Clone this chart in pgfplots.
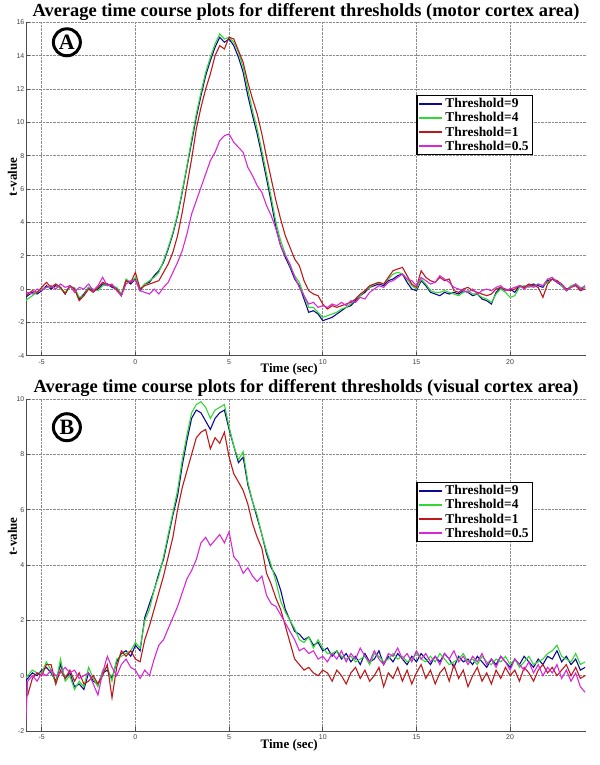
\documentclass[border=0pt]{standalone}
\usepackage{fontspec}
\setmainfont{Liberation Serif}
\setsansfont{Liberation Sans}
\usepackage{pgfplots}
\usepackage{pgfplotstable}
\pgfplotsset{compat=1.18}
\definecolor{colB}{RGB}{10,10,150}
\definecolor{colG}{RGB}{50,215,50}
\definecolor{colR}{RGB}{190,25,25}
\definecolor{colM}{RGB}{215,40,215}

\pgfplotstableread{
t b g r m
-5.87 -0.5 -0.7 -0.4 -0.2
-5.75 -0.4 -0.6 -0.3 -0.2
-5.50 -0.2 -0.4 -0.1 -0.3
-5.25 -0.3 -0.2 -0.2 0.0
-5.00 -0.1 0.0 0.1 -0.1
-4.75 0.2 0.1 0.4 0.1
-4.50 0.0 0.1 0.1 0.2
-4.25 0.2 0.3 0.3 0.0
-4.00 0.1 0.0 0.1 0.3
-3.75 -0.3 -0.2 -0.3 0.1
-3.50 0.2 0.1 0.2 0.2
-3.25 0.0 0.1 0.0 -0.2
-3.00 -0.6 -0.5 -0.7 0.1
-2.75 -0.3 -0.4 -0.4 0.0
-2.50 0.1 0.1 0.0 0.3
-2.25 -0.1 0.0 -0.2 -0.1
-2.00 0.0 -0.1 0.1 0.2
-1.75 0.3 0.2 0.4 0.7
-1.50 0.3 0.2 0.3 0.2
-1.25 0.1 0.2 0.2 0.3
-1.00 0.0 0.1 0.0 -0.1
-0.75 -0.4 -0.3 -0.4 -0.4
-0.50 0.5 0.6 0.5 0.3
-0.25 0.3 0.4 0.4 0.5
0.00 0.6 0.7 1.0 0.5
0.25 -0.1 0.0 0.0 -0.1
0.50 0.3 0.3 0.2 -0.2
0.75 0.4 0.5 0.3 -0.3
1.00 0.8 0.7 0.4 0.0
1.25 1.1 1.0 0.5 -0.3
1.50 1.6 1.7 1.0 0.1
1.75 2.4 2.5 1.5 0.4
2.00 3.3 3.4 2.2 1.0
2.25 4.4 4.5 3.2 1.6
2.50 5.8 5.9 4.6 2.3
2.75 7.3 7.4 6.2 3.3
3.00 8.8 9.0 7.8 4.5
3.25 10.3 10.5 9.6 5.3
3.50 11.6 11.8 10.9 6.1
3.75 12.8 13.0 12.0 6.9
4.00 13.7 13.9 12.9 7.7
4.25 14.5 14.7 14.0 8.2
4.50 15.1 15.3 14.6 8.9
4.75 14.8 15.0 14.4 9.2
5.00 15.0 15.1 15.1 9.3
5.25 14.6 14.8 15.0 8.8
5.50 13.9 14.2 14.3 8.5
5.75 13.0 13.3 13.6 8.2
6.00 11.6 12.0 12.4 7.3
6.25 10.4 10.7 11.4 6.8
6.50 9.3 9.6 10.5 6.2
6.75 8.0 8.3 9.3 5.8
7.00 6.6 6.9 7.9 5.0
7.25 5.2 5.5 6.6 4.4
7.50 3.7 4.0 5.3 3.6
7.75 2.6 2.9 4.2 2.6
8.00 1.9 2.1 3.2 2.0
8.25 1.3 1.4 2.5 1.5
8.50 0.6 0.8 1.8 0.7
8.75 0.2 0.4 1.4 0.1
9.00 -0.6 -0.4 0.5 -0.4
9.25 -1.4 -1.1 -0.1 -0.9
9.50 -1.3 -1.1 -0.3 -0.8
9.75 -1.5 -1.4 -0.4 -1.1
10.00 -1.9 -1.7 -0.9 -1.0
10.25 -1.8 -1.6 -1.2 -1.1
10.50 -1.7 -1.5 -1.0 -0.9
10.75 -1.5 -1.4 -1.1 -1.0
11.00 -1.3 -1.2 -1.0 -0.8
11.25 -1.1 -1.1 -0.9 -1.0
11.50 -1.0 -0.9 -0.8 -0.7
11.75 -0.7 -0.6 -0.6 -0.8
12.00 -0.4 -0.4 -0.3 -0.5
12.25 -0.2 -0.1 -0.1 -0.6
12.50 0.1 0.1 0.2 -0.2
12.75 0.2 0.3 0.3 0.0
13.00 0.3 0.4 0.4 0.2
13.25 0.2 0.3 0.3 0.1
13.50 0.5 0.6 0.7 0.4
13.75 0.6 0.9 1.1 0.5
14.00 0.8 1.0 1.2 0.7
14.25 0.9 0.9 1.3 0.9
14.50 0.4 0.6 0.8 0.6
14.75 0.0 0.2 0.3 0.5
15.00 -0.1 0.0 0.1 0.2
15.25 0.5 0.6 1.1 0.7
15.50 0.2 0.3 0.7 0.5
15.75 -0.2 -0.1 0.5 0.3
16.00 -0.3 -0.2 0.4 0.4
16.25 -0.4 -0.2 0.7 0.8
16.50 -0.2 -0.1 0.5 0.6
16.75 -0.3 -0.2 0.6 0.4
17.00 -0.2 -0.3 -0.1 0.1
17.25 -0.3 -0.4 -0.2 0.0
17.50 -0.1 -0.2 0.0 -0.1
17.75 -0.2 -0.1 0.1 -0.2
18.00 -0.4 -0.3 -0.1 0.0
18.25 -0.3 -0.3 -0.2 -0.3
18.50 -0.6 -0.5 -0.3 -0.1
18.75 -0.7 -0.6 -0.4 0.0
19.00 -0.9 -0.8 -0.3 -0.1
19.25 -0.2 -0.3 0.0 0.1
19.50 0.1 0.0 0.1 0.2
19.75 -0.1 -0.2 0.0 -0.1
20.00 0.0 -0.5 -0.1 0.0
20.25 -0.2 -0.4 0.0 0.1
20.50 0.2 0.1 0.2 0.2
20.75 0.1 0.2 0.1 0.0
21.00 0.2 0.1 0.3 0.2
21.25 0.3 0.2 0.2 0.1
21.50 0.2 0.3 0.1 0.3
21.75 0.1 0.2 -0.5 0.2
22.00 0.5 0.4 0.3 0.6
22.25 0.6 0.6 0.6 0.7
22.50 0.4 0.5 0.5 0.4
22.75 0.2 0.2 0.3 0.3
23.00 -0.1 -0.1 0.0 -0.1
23.25 0.1 0.2 0.1 0.1
23.50 0.3 0.3 0.2 0.3
23.75 0.0 0.1 -0.1 0.0
24.00 0.1 0.1 0.0 0.2
}\tblA

\pgfplotstableread{
t b g r m
-5.87 -0.2 -0.1 -0.6 -1.9
-5.75 -0.1 0.0 -0.7 -0.2
-5.50 0.1 0.2 -0.1 0.0
-5.25 0.0 0.1 0.1 -0.2
-5.00 0.2 0.1 0.0 0.1
-4.75 0.3 0.5 0.4 0.0
-4.50 0.1 0.2 0.4 0.2
-4.25 -0.2 -0.3 -0.3 0.0
-4.00 0.4 0.6 0.2 0.1
-3.75 -0.1 -0.2 -0.1 0.3
-3.50 0.1 0.0 0.2 0.1
-3.25 -0.4 -0.5 -0.2 0.2
-3.00 -0.3 -0.2 0.1 -0.1
-2.75 -0.5 -0.4 -0.3 0.0
-2.50 0.1 0.3 -0.2 0.1
-2.25 -0.2 -0.1 0.0 -0.3
-2.00 -0.3 -0.4 -0.3 -0.7
-1.75 0.1 0.2 0.0 0.1
-1.50 0.2 0.3 0.4 0.7
-1.25 -0.1 -0.2 -0.8 0.3
-1.00 0.5 0.6 0.3 0.0
-0.75 0.8 0.7 0.9 0.4
-0.50 0.9 0.8 0.7 0.6
-0.25 0.7 0.9 0.9 0.3
0.00 1.1 1.2 0.6 0.2
0.25 0.9 1.0 0.5 -0.1
0.50 2.1 2.0 1.3 0.2
0.75 2.6 2.4 1.8 0.0
1.00 3.1 3.1 2.4 0.6
1.25 3.7 3.6 3.0 1.1
1.50 4.2 4.3 3.6 1.3
1.75 5.0 5.1 4.3 1.7
2.00 5.8 5.9 5.0 2.1
2.25 6.5 6.7 6.0 2.5
2.50 7.6 7.8 6.8 3.0
2.75 8.5 8.7 7.4 3.5
3.00 9.3 9.5 8.0 3.8
3.25 9.6 9.8 8.6 4.2
3.50 9.5 9.9 8.8 4.8
3.75 9.2 9.7 8.9 5.0
4.00 8.9 9.3 8.2 4.7
4.25 9.3 9.6 8.6 4.9
4.50 9.5 9.7 8.4 5.1
4.75 9.6 9.8 8.8 4.8
5.00 8.9 9.0 7.9 5.2
5.25 8.3 8.3 7.3 4.3
5.50 7.7 7.8 7.0 4.1
5.75 7.9 8.1 6.7 3.7
6.00 6.9 7.0 6.2 3.9
6.25 6.3 6.3 5.5 3.6
6.50 5.7 5.8 5.0 3.4
6.75 5.1 5.1 4.6 3.6
7.00 4.4 4.5 3.7 2.9
7.25 3.9 4.0 3.3 2.6
7.50 3.6 3.4 2.8 2.5
7.75 3.1 2.7 2.4 2.2
8.00 2.4 2.3 1.8 1.9
8.25 2.0 2.0 1.2 1.6
8.50 1.6 1.7 0.6 1.3
8.75 1.5 1.3 0.4 0.9
9.00 1.3 1.2 0.2 1.0
9.25 1.4 1.4 0.3 0.8
9.50 1.1 1.0 0.1 0.9
9.75 1.2 1.3 0.0 0.6
10.00 0.9 1.0 0.2 0.7
10.25 1.0 0.8 0.1 0.5
10.50 0.7 0.8 -0.2 0.8
10.75 0.9 0.9 0.2 0.6
11.00 0.6 0.7 0.0 0.9
11.25 0.8 0.6 -0.3 0.5
11.50 0.5 0.7 0.1 0.8
11.75 0.7 0.5 0.3 0.6
12.00 0.4 0.6 -0.1 1.0
12.25 0.8 0.7 0.2 0.7
12.50 0.5 0.4 -0.2 0.5
12.75 0.6 0.8 0.0 0.9
13.00 0.9 0.7 0.3 0.6
13.25 0.4 0.5 -0.4 0.4
13.50 0.7 0.6 0.1 0.8
13.75 0.5 0.8 -0.1 0.7
14.00 0.8 0.6 0.3 1.0
14.25 0.6 0.7 -0.2 0.6
14.50 0.4 0.5 0.2 0.8
14.75 0.7 0.6 -0.3 0.5
15.00 0.5 0.8 0.1 0.9
15.25 0.8 0.6 0.4 0.6
15.50 0.6 0.5 -0.1 0.8
15.75 0.4 0.7 0.2 0.5
16.00 0.7 0.5 -0.3 0.7
16.25 0.5 0.8 0.1 0.4
16.50 0.8 0.6 0.3 0.8
16.75 0.6 0.4 -0.2 0.6
17.00 0.3 0.5 0.4 0.9
17.25 0.7 0.6 -0.1 0.5
17.50 0.5 0.8 0.2 0.7
17.75 0.6 0.5 -0.4 0.4
18.00 0.4 0.6 0.0 0.7
18.25 0.7 0.4 0.3 0.5
18.50 0.5 0.7 -0.2 0.8
18.75 0.3 0.5 0.1 0.4
19.00 0.6 0.4 -0.3 0.6
19.25 0.4 0.6 0.2 0.3
19.50 0.7 0.5 -0.1 0.7
19.75 0.5 0.7 0.3 0.5
20.00 0.3 0.4 0.0 0.2
20.25 0.6 0.6 0.2 0.6
20.50 0.4 0.3 -0.2 0.4
20.75 0.7 0.5 0.3 0.2
21.00 0.5 0.7 0.1 0.5
21.25 0.3 0.4 -0.2 0.1
21.50 0.6 0.5 0.2 0.4
21.75 0.4 0.6 0.4 0.0
22.00 0.7 0.8 0.1 0.3
22.25 0.6 0.9 0.3 0.1
22.50 0.9 1.1 0.0 0.4
22.75 0.5 0.7 0.2 -0.1
23.00 0.7 0.6 0.4 0.2
23.25 0.4 0.5 0.0 -0.2
23.50 0.6 0.8 0.3 0.1
23.75 0.2 0.4 -0.1 -0.4
24.00 0.3 0.5 0.0 -0.6
}\tblB

\pgfplotsset{
  mystyle/.style={
    scale only axis, width=560bp,
    xmin=-5.84, xmax=24.05,
    xtick={-5,0,5,10,15,20},
    axis x line*=bottom, axis y line*=left,
    axis line style={black!70, line width=0.8bp},
    tick align=inside, major tick length=4bp,
    tick style={black!70, line width=0.6bp},
    grid=major,
    major grid style={densely dotted, black!45, line width=0.6bp},
    /pgf/number format/assume math mode=true,
    tick label style={font=\sffamily\fontsize{7}{7}\selectfont, text=black!75},
    yticklabel style={inner sep=1.5bp},
    title style={font=\bfseries\fontsize{18.5}{18.5}\selectfont, at={(axis description cs:0.5,1)}, anchor=south, inner sep=0pt, yshift=-4bp},
    xlabel style={font=\bfseries\fontsize{13}{13}\selectfont, at={(axis description cs:0.47,0)}, anchor=north, yshift=-8bp, inner sep=0pt},
    ylabel style={font=\bfseries\fontsize{13}{13}\selectfont},
    legend image code/.code={\draw[#1, line width=2bp] (0bp,0bp) -- (23bp,0bp);},
    legend style={draw=black, line width=1.3bp, fill=white,
      font=\bfseries\fontsize{13.5}{13.5}\selectfont,
      inner xsep=1.5bp, inner ysep=0.5bp, row sep=-0.5bp,
      cells={anchor=west}, anchor=north east},
    every axis plot/.append style={line width=1.1bp, no markers},
  }
}

\begin{document}
\begin{tikzpicture}
\useasboundingbox (0bp,0bp) rectangle (600bp,765bp);

\begin{axis}[mystyle, at={(26bp,409.3bp)}, anchor=south west,
  height=333.4bp, ymin=-4, ymax=16, ytick={-4,-2,0,2,4,6,8,10,12,14,16},
  title={Average time course plots for different thresholds (motor cortex area)},
  xlabel={Time (sec)}, ylabel={t-value},
  ylabel style={at={(axis description cs:-0.024,0.536)}, anchor=center},
  legend style={at={(axis description cs:0.905,0.782)}}]
\addplot[colB] table[x=t,y=b] {\tblA};
\addlegendentry{Threshold=9}
\addplot[colG] table[x=t,y=g] {\tblA};
\addlegendentry{Threshold=4}
\addplot[colR] table[x=t,y=r] {\tblA};
\addlegendentry{Threshold=1}
\addplot[colM] table[x=t,y=m] {\tblA};
\addlegendentry{Threshold=0.5}
\node[circle, draw=black, line width=3bp, inner sep=0pt, minimum size=27bp,
  font=\bfseries\fontsize{22}{22}\selectfont] at (axis description cs:0.073,0.94) {A};
\end{axis}

\begin{axis}[mystyle, at={(26bp,34bp)}, anchor=south west,
  height=332bp, ymin=-2, ymax=10, ytick={-2,0,2,4,6,8,10},
  title={Average time course plots for different thresholds (visual cortex area)},
  xlabel={Time (sec)}, ylabel={t-value},
  ylabel style={at={(axis description cs:-0.024,0.586)}, anchor=center},
  legend style={at={(axis description cs:0.905,0.75)}}]
\addplot[colB] table[x=t,y=b] {\tblB};
\addlegendentry{Threshold=9}
\addplot[colG] table[x=t,y=g] {\tblB};
\addlegendentry{Threshold=4}
\addplot[colR] table[x=t,y=r] {\tblB};
\addlegendentry{Threshold=1}
\addplot[colM] table[x=t,y=m] {\tblB};
\addlegendentry{Threshold=0.5}
\node[circle, draw=black, line width=3bp, inner sep=0pt, minimum size=27bp,
  font=\bfseries\fontsize{22}{22}\selectfont] at (axis description cs:0.073,0.915) {B};
\end{axis}
\end{tikzpicture}
\end{document}
